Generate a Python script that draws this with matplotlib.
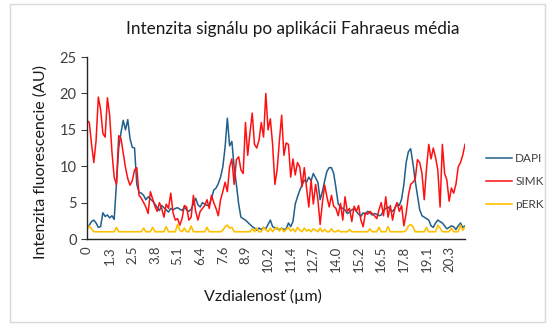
"""
Intenzita fluorescencie DAPI / SIMK / pERK pozdĺž profilu bunky
po aplikácii Fahraeus média.
"""

import numpy as np
import matplotlib
matplotlib.use("Agg")
import matplotlib.pyplot as plt
from matplotlib.patches import Rectangle

# ── dáta (krok profilu 0.127 µm, 168 bodov) ─────────────
DIST_LABELS = ["0", "1.3", "2.5", "3.8", "5.1", "6.4", "7.6", "8.9", "10.2",
               "11.4", "12.7", "14.0", "15.2", "16.5", "17.8", "19.1", "20.3"]

DAPI = [
    1.5, 1.9, 2.4, 2.6, 2.2, 1.6, 1.7, 3.6, 3.1, 3.3,
    2.9, 3.2, 2.7, 7.5, 12.5, 14.6, 16.3, 15.0, 16.4, 13.8,
    12.6, 12.5, 7.5, 6.4, 6.3, 6.0, 5.4, 5.8, 5.5, 5.2,
    4.8, 4.3, 3.9, 4.6, 4.3, 4.0, 3.7, 4.2, 4.0, 4.2,
    4.3, 4.1, 3.9, 4.4, 4.0, 3.8, 4.1, 4.8, 5.6, 4.7,
    4.4, 5.0, 4.8, 4.6, 4.7, 5.6, 6.7, 7.0, 7.6, 8.5,
    9.9, 12.6, 16.6, 12.8, 13.4, 9.9, 7.5, 4.8, 3.0, 2.8,
    2.6, 2.3, 2.0, 1.7, 1.5, 1.2, 1.5, 1.3, 1.6, 1.4,
    2.0, 2.6, 1.7, 1.5, 1.4, 1.3, 1.5, 1.3, 1.4, 2.2,
    1.7, 2.4, 4.8, 5.8, 6.7, 7.4, 8.1, 7.8, 8.5, 8.0,
    9.0, 8.4, 7.8, 5.4, 6.5, 8.0, 9.3, 9.8, 9.8, 9.0,
    7.0, 4.8, 4.4, 4.2, 4.0, 3.5, 3.7, 4.0, 4.2, 3.8,
    3.4, 3.1, 3.6, 3.4, 3.8, 3.6, 3.3, 3.5, 3.4, 3.2,
    3.3, 3.9, 4.2, 4.4, 4.0, 3.8, 4.2, 4.9, 4.6, 5.5,
    7.5, 10.5, 12.0, 12.4, 10.4, 8.0, 6.0, 4.0, 3.2, 3.0,
    2.8, 2.6, 1.8, 1.6, 2.2, 2.6, 2.4, 2.2, 1.8, 1.4,
    1.6, 1.8, 1.7, 1.3, 1.8, 2.2, 1.6, 1.8,
]

SIMK = [
    16.3, 16.0, 13.0, 10.5, 13.5, 19.5, 17.8, 14.5, 14.0, 19.4,
    17.0, 12.0, 8.5, 7.5, 14.2, 13.8, 11.8, 9.8, 8.3, 7.4,
    8.0, 9.5, 9.8, 6.0, 5.6, 5.0, 4.4, 3.5, 6.5, 5.5,
    4.5, 3.8, 5.0, 4.2, 3.0, 4.8, 4.2, 6.3, 3.6, 2.6,
    2.8, 1.9, 2.8, 4.6, 4.4, 2.6, 3.0, 6.0, 3.8, 2.6,
    3.8, 4.2, 4.6, 5.4, 4.2, 6.0, 5.0, 4.2, 3.2, 5.4,
    6.5, 7.8, 6.5, 9.9, 11.0, 7.5, 10.9, 11.3, 9.5, 9.0,
    16.0, 11.5, 14.6, 17.3, 13.0, 12.5, 13.6, 16.0, 14.0, 20.0,
    15.0, 16.5, 13.0, 7.5, 9.5, 13.5, 17.0, 11.5, 13.2, 13.0,
    8.5, 11.0, 8.8, 10.5, 9.9, 7.2, 9.8, 7.0, 4.4, 8.1,
    4.8, 7.5, 5.5, 2.0, 5.0, 7.4, 5.8, 4.4, 6.0, 4.5,
    4.2, 3.2, 4.9, 2.6, 5.8, 3.8, 4.2, 2.4, 4.5, 3.8,
    4.6, 2.6, 1.7, 3.6, 3.4, 3.8, 3.5, 3.2, 2.8, 4.0,
    5.0, 3.2, 5.8, 3.0, 4.6, 2.6, 4.2, 5.0, 3.8, 4.6,
    1.8, 3.5, 6.0, 7.5, 7.8, 8.2, 10.9, 10.5, 9.0, 5.4,
    9.7, 13.0, 11.0, 12.5, 11.2, 9.5, 4.4, 13.0, 9.0, 8.1,
    5.2, 7.0, 6.3, 7.5, 9.9, 10.5, 11.5, 13.0,
]

PERK = [
    1.3, 1.8, 1.4, 1.0, 1.0, 1.0, 1.0, 1.0, 1.0, 1.0,
    1.0, 1.0, 1.0, 1.6, 1.0, 1.0, 1.0, 1.0, 1.0, 1.0,
    1.0, 1.0, 1.0, 1.0, 1.0, 1.5, 1.0, 1.0, 1.0, 1.6,
    1.0, 1.0, 1.0, 1.0, 1.0, 1.7, 1.0, 1.0, 1.0, 1.0,
    2.0, 1.2, 1.0, 1.5, 1.0, 1.0, 1.8, 1.0, 1.0, 1.0,
    1.0, 1.0, 1.0, 1.6, 1.0, 1.0, 1.0, 1.0, 1.0, 1.0,
    1.2, 1.7, 1.9, 1.5, 1.6, 1.0, 1.0, 1.0, 1.0, 1.0,
    1.0, 1.0, 1.0, 1.4, 1.0, 1.5, 1.0, 1.0, 1.6, 1.3,
    1.0, 1.5, 1.0, 1.4, 1.6, 1.1, 1.5, 1.0, 1.3, 1.6,
    1.1, 1.4, 1.0, 1.6, 1.2, 1.0, 1.5, 1.1, 1.3, 1.0,
    1.4, 1.2, 1.0, 1.5, 1.0, 1.3, 1.0, 1.0, 1.4, 1.0,
    1.0, 1.2, 1.0, 1.0, 1.0, 1.0, 1.3, 1.0, 1.0, 1.0,
    1.0, 1.0, 1.0, 1.0, 1.0, 1.4, 1.0, 1.0, 1.0, 1.6,
    1.0, 1.0, 1.0, 1.7, 1.0, 1.0, 1.0, 1.0, 1.0, 1.0,
    1.0, 1.2, 1.8, 2.0, 1.7, 1.0, 1.0, 1.0, 1.0, 1.0,
    1.6, 1.0, 1.0, 1.0, 1.0, 1.9, 1.5, 1.0, 1.0, 1.0,
    1.0, 1.5, 1.0, 1.0, 1.0, 1.9, 1.2, 1.6,
]

COLORS = {"DAPI": "#1F5F8B", "SIMK": "#FF1010", "pERK": "#FFC000"}
FONT = ["Lato", "DejaVu Sans"]
TXT = "#404040"

plt.rcParams["font.family"] = FONT

fig = plt.figure(figsize=(5.48, 3.24), dpi=100, facecolor="white")
fig.patches.append(Rectangle((0.018, 0.006), 0.976, 0.982, transform=fig.transFigure,
                             fill=False, edgecolor="#D9D9D9", linewidth=1.0))

ax = fig.add_axes([0.1588, 0.2623, 0.6897, 0.5617])
x = np.arange(len(DAPI))
ax.plot(x, DAPI, color=COLORS["DAPI"], linewidth=1.1, label="DAPI")
ax.plot(x, SIMK, color=COLORS["SIMK"], linewidth=1.1, label="SIMK")
ax.plot(x, PERK, color=COLORS["pERK"], linewidth=1.2, label="pERK")

ax.set_xlim(0, len(DAPI) - 1)
ax.set_ylim(0, 25)
ax.set_yticks(range(0, 26, 5))
ax.set_xticks(np.arange(0, len(DIST_LABELS) * 10, 10))
ax.set_xticklabels(DIST_LABELS, rotation=90)
ax.tick_params(axis="x", length=0, pad=5, labelsize=9.5, colors=TXT)
ax.tick_params(axis="y", length=4, width=0.8, labelsize=10.5, colors=TXT)

for side in ("top", "right"):
    ax.spines[side].set_visible(False)
for side in ("left", "bottom"):
    ax.spines[side].set_color("#262626")
    ax.spines[side].set_linewidth(1.0)

fig.text(0.535, 0.912, "Intenzita signálu po aplikácii Fahraeus média",
         ha="center", va="center", fontsize=12.3, color="#1A1A1A")
fig.text(0.074, 0.50, "Intenzita fluorescencie (AU)", rotation=90,
         ha="center", va="center", fontsize=11.5, color="#1A1A1A")
fig.text(0.48, 0.085, "Vzdialenosť (µm)", ha="center", va="center",
         fontsize=11.5, color="#1A1A1A")

ax.legend(loc="center left", bbox_to_anchor=(0.868, 0.44),
          bbox_transform=fig.transFigure, frameon=False,
          handlelength=2.2, handletextpad=0.25, labelspacing=1.0,
          fontsize=8.5, labelcolor=TXT)

fig.savefig("out.png", dpi=100, facecolor="white")
